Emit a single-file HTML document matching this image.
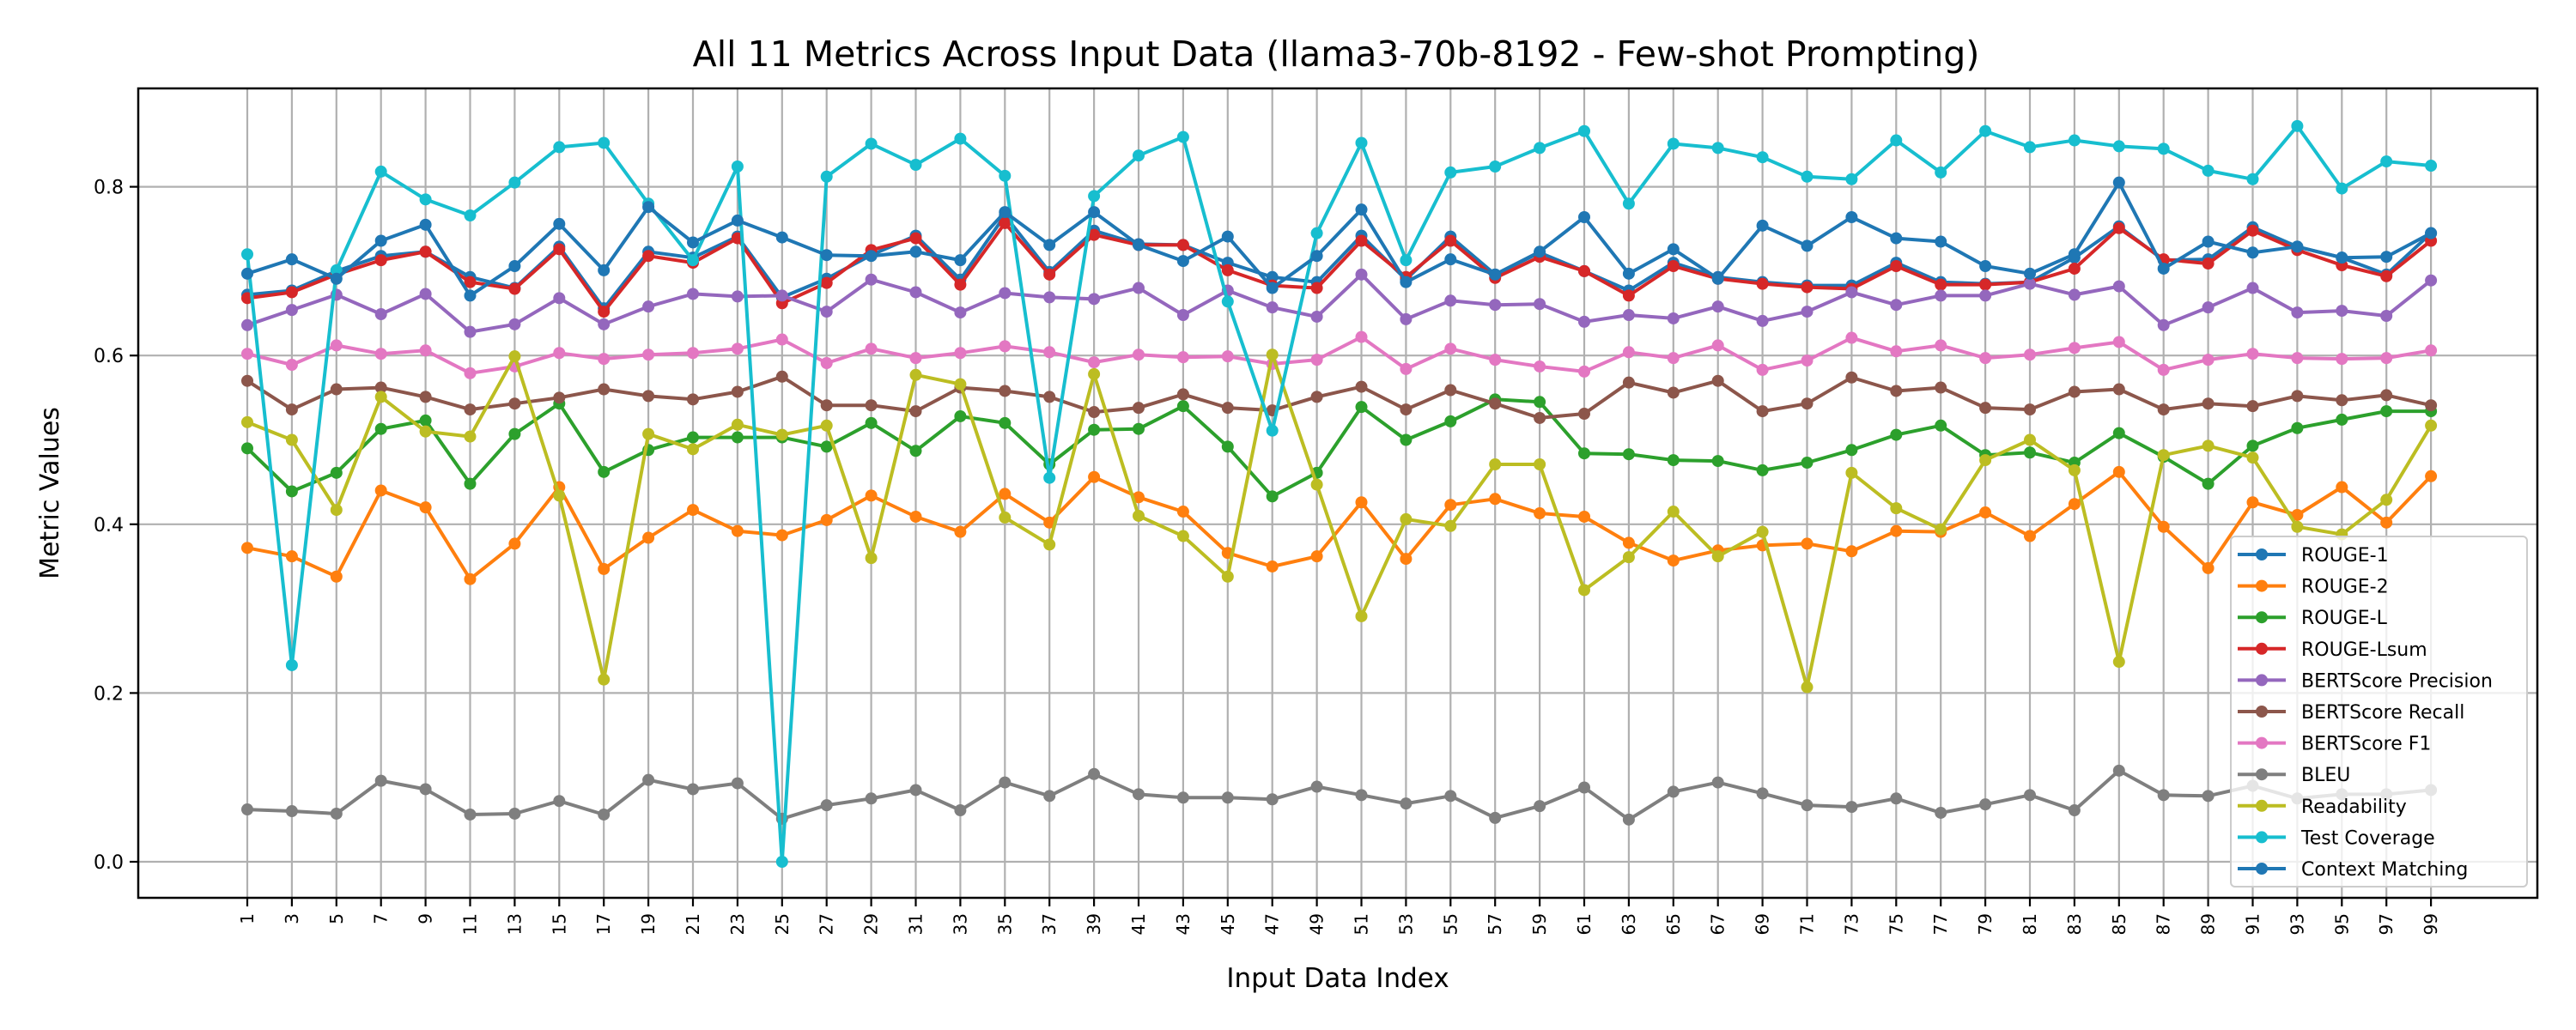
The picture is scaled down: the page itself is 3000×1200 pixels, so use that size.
<!DOCTYPE html>
<html><head><meta charset="utf-8"><title>All 11 Metrics</title>
<style>
html,body{margin:0;padding:0;background:#fff;}
svg{display:block;font-family:"DejaVu Sans","Liberation Sans",sans-serif;}
</style></head>
<body>
<svg id="chart" width="3000" height="1200" viewBox="0 0 3000 1200" xmlns="http://www.w3.org/2000/svg"></svg>
<script>
const xValues = [1,3,5,7,9,11,13,15,17,19,21,23,25,27,29,31,33,35,37,39,41,43,45,47,49,51,53,55,57,59,61,63,65,67,69,71,73,75,77,79,81,83,85,87,89,91,93,95,97,99];
const yTicks = [0.0,0.2,0.4,0.6,0.8];
const yTickLabels = ["0.0","0.2","0.4","0.6","0.8"];
const seriesNames = ["ROUGE-1","ROUGE-2","ROUGE-L","ROUGE-Lsum","BERTScore Precision","BERTScore Recall","BERTScore F1","BLEU","Readability","Test Coverage","Context Matching"];
const rouge1 = [0.672,0.677,0.700,0.718,0.723,0.693,0.680,0.729,0.656,0.723,0.716,0.741,0.669,0.691,0.719,0.742,0.690,0.766,0.699,0.748,0.732,0.731,0.710,0.693,0.687,0.742,0.690,0.741,0.696,0.722,0.700,0.677,0.710,0.693,0.687,0.683,0.683,0.710,0.687,0.685,0.687,0.716,0.753,0.713,0.714,0.752,0.729,0.716,0.696,0.745];
const rouge2 = [0.372,0.362,0.338,0.440,0.420,0.335,0.377,0.444,0.347,0.384,0.417,0.392,0.387,0.405,0.434,0.409,0.391,0.436,0.402,0.456,0.432,0.415,0.366,0.350,0.362,0.426,0.359,0.423,0.430,0.413,0.409,0.378,0.357,0.369,0.375,0.377,0.368,0.392,0.391,0.414,0.386,0.424,0.462,0.397,0.348,0.426,0.411,0.444,0.402,0.457];
const rougeL = [0.490,0.439,0.461,0.513,0.523,0.448,0.507,0.543,0.462,0.488,0.503,0.503,0.503,0.492,0.520,0.487,0.528,0.520,0.471,0.512,0.513,0.540,0.492,0.433,0.461,0.539,0.500,0.522,0.548,0.545,0.484,0.483,0.476,0.475,0.464,0.473,0.488,0.506,0.517,0.482,0.485,0.473,0.508,0.480,0.448,0.493,0.514,0.524,0.534,0.534];
const rougeLsum = [0.668,0.675,0.696,0.713,0.723,0.687,0.679,0.726,0.652,0.718,0.710,0.739,0.662,0.686,0.725,0.739,0.684,0.757,0.696,0.743,0.731,0.731,0.701,0.683,0.680,0.736,0.693,0.736,0.692,0.717,0.700,0.671,0.706,0.691,0.685,0.681,0.679,0.706,0.684,0.684,0.687,0.703,0.751,0.714,0.709,0.748,0.725,0.707,0.694,0.736];
const bertPrecision = [0.636,0.654,0.672,0.649,0.673,0.628,0.637,0.668,0.637,0.658,0.673,0.670,0.671,0.652,0.690,0.675,0.651,0.674,0.669,0.667,0.680,0.648,0.677,0.657,0.646,0.696,0.643,0.665,0.660,0.661,0.640,0.648,0.644,0.658,0.641,0.652,0.675,0.660,0.671,0.671,0.685,0.672,0.682,0.636,0.657,0.680,0.651,0.653,0.647,0.689];
const bertRecall = [0.570,0.536,0.560,0.562,0.551,0.536,0.543,0.550,0.560,0.552,0.548,0.557,0.575,0.541,0.541,0.534,0.562,0.558,0.551,0.533,0.538,0.554,0.538,0.535,0.551,0.563,0.536,0.559,0.543,0.526,0.531,0.568,0.556,0.570,0.534,0.543,0.574,0.558,0.562,0.538,0.536,0.557,0.560,0.536,0.543,0.540,0.552,0.547,0.553,0.541];
const bertF1 = [0.602,0.589,0.612,0.602,0.606,0.579,0.587,0.603,0.596,0.601,0.603,0.608,0.619,0.591,0.608,0.597,0.603,0.611,0.604,0.592,0.601,0.598,0.599,0.590,0.595,0.622,0.584,0.608,0.595,0.587,0.581,0.604,0.597,0.612,0.583,0.594,0.621,0.605,0.612,0.597,0.601,0.609,0.616,0.583,0.595,0.602,0.597,0.596,0.597,0.606];
const bleu = [0.062,0.060,0.057,0.096,0.086,0.056,0.057,0.072,0.056,0.097,0.086,0.093,0.051,0.067,0.075,0.085,0.061,0.094,0.078,0.104,0.080,0.076,0.076,0.074,0.089,0.079,0.069,0.078,0.052,0.066,0.088,0.050,0.083,0.094,0.081,0.067,0.065,0.075,0.058,0.068,0.079,0.061,0.108,0.079,0.078,0.090,0.075,0.080,0.080,0.085];
const readability = [0.521,0.500,0.417,0.551,0.510,0.504,0.599,0.434,0.216,0.507,0.489,0.518,0.506,0.517,0.360,0.577,0.566,0.408,0.376,0.578,0.410,0.386,0.338,0.601,0.447,0.291,0.406,0.398,0.471,0.471,0.322,0.361,0.415,0.362,0.391,0.207,0.461,0.419,0.394,0.476,0.500,0.464,0.237,0.482,0.493,0.479,0.397,0.388,0.429,0.517];
const testCoverage = [0.720,0.233,0.701,0.818,0.785,0.766,0.805,0.847,0.852,0.780,0.713,0.824,0.000,0.812,0.851,0.826,0.857,0.813,0.455,0.789,0.837,0.859,0.664,0.511,0.745,0.852,0.713,0.817,0.824,0.846,0.866,0.780,0.851,0.846,0.835,0.812,0.809,0.855,0.817,0.866,0.847,0.855,0.848,0.845,0.819,0.809,0.872,0.798,0.830,0.825];
const contextMatching = [0.697,0.714,0.691,0.736,0.755,0.671,0.706,0.756,0.701,0.776,0.734,0.760,0.740,0.719,0.718,0.723,0.713,0.770,0.731,0.770,0.731,0.712,0.741,0.680,0.718,0.773,0.687,0.714,0.696,0.723,0.764,0.697,0.726,0.691,0.754,0.730,0.764,0.739,0.735,0.706,0.697,0.720,0.805,0.703,0.735,0.722,0.729,0.716,0.717,0.745];
const seriesValues = [rouge1,rouge2,rougeL,rougeLsum,bertPrecision,bertRecall,bertF1,bleu,readability,testCoverage,contextMatching];
const seriesColors = ["#1f77b4","#ff7f0e","#2ca02c","#d62728","#9467bd","#8c564b","#e377c2","#7f7f7f","#bcbd22","#17becf","#1f77b4"];

const NS = "http://www.w3.org/2000/svg";
const svg = document.getElementById("chart");
const L = 161, R = 2955, T = 103, B = 1046;
function xScale(x){ return 288 + (x - 1) / 2 * 51.9; }
function yScale(v){ return 1004 - v * 983; }
function mk(tag, attrs, parent){
  const e = document.createElementNS(NS, tag);
  for (const k in attrs) e.setAttribute(k, attrs[k]);
  (parent || svg).appendChild(e);
  return e;
}
mk("rect",{x:0,y:0,width:3000,height:1200,fill:"#fff"});

const grid = mk("g",{stroke:"#b0b0b0","stroke-width":2.2});


xValues.forEach(x => mk("line",{x1:xScale(x),x2:xScale(x),y1:T,y2:B},grid));
yTicks.forEach(v => mk("line",{x1:L,x2:R,y1:yScale(v),y2:yScale(v)},grid));

seriesValues.forEach((vals, si) => {
  const g = mk("g",{});
  
  
  const pts = vals.map((v,i) => xScale(xValues[i]).toFixed(1) + "," + yScale(v).toFixed(1)).join(" ");
  mk("polyline",{points:pts,fill:"none",stroke:seriesColors[si],"stroke-width":4,"stroke-linejoin":"round"},g);
  vals.forEach((v,i) => {
    const c = mk("circle",{cx:xScale(xValues[i]),cy:yScale(v),r:7,fill:seriesColors[si]},g);
    
    
  });
});

const frame = mk("rect",{x:L,y:T,width:R-L,height:B-T,fill:"none",stroke:"#000","stroke-width":2.5});



yTicks.forEach((v,i) => {
  mk("line",{x1:L-10,x2:L,y1:yScale(v),y2:yScale(v),stroke:"#000","stroke-width":2.2});
  const t = mk("text",{x:L-17,y:yScale(v)+8,"text-anchor":"end","font-size":22,fill:"#000"});
  t.textContent = yTickLabels[i];
  
  
});
xValues.forEach(x => {
  const px = xScale(x);
  mk("line",{x1:px,x2:px,y1:B,y2:B+10,stroke:"#000","stroke-width":2.2});
  const t = mk("text",{x:0,y:0,"text-anchor":"end","font-size":20,fill:"#000",transform:`translate(${px+7},${B+18}) rotate(-90)`});
  t.textContent = String(x);
  
  
});

const title = mk("text",{x:1556,y:77,"text-anchor":"middle","font-size":41,fill:"#000"});
title.textContent = "All 11 Metrics Across Input Data (llama3-70b-8192 - Few-shot Prompting)";


const xl = mk("text",{x:(L+R)/2,y:1150,"text-anchor":"middle","font-size":31,fill:"#000"});
xl.textContent = "Input Data Index";


const yl = mk("text",{x:0,y:0,"text-anchor":"middle","font-size":30,fill:"#000",transform:`translate(68,${(T+B)/2}) rotate(-90)`});
yl.textContent = "Metric Values";



const lg = mk("g",{});


mk("rect",{x:2598,y:625,width:345,height:408,rx:5,fill:"#fff","fill-opacity":0.8,stroke:"#cccccc","stroke-width":2},lg);
seriesNames.forEach((n,i) => {
  const cy = 646 + i * 36.6;
  const e = mk("g",{},lg);
  
  
  mk("line",{x1:2606,x2:2662,y1:cy,y2:cy,stroke:seriesColors[i],"stroke-width":4},e);
  mk("circle",{cx:2634,cy:cy,r:7,fill:seriesColors[i]},e);
  const t = mk("text",{x:2680,y:cy+8,"font-size":22,fill:"#000"},e);
  t.textContent = n;
});
</script>
</body></html>
